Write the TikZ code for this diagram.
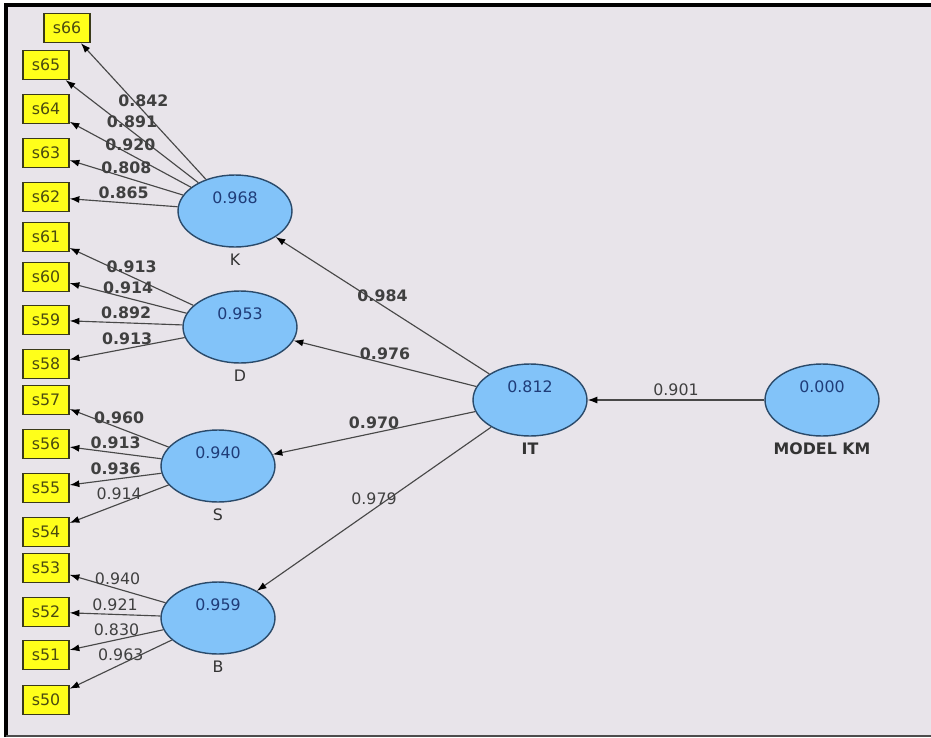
\documentclass[tikz,border=0pt]{standalone}
\usepackage{fontspec}
\setmainfont{DejaVu Sans}
\usetikzlibrary{shapes.geometric,arrows.meta}

\definecolor{bgcol}{HTML}{E8E4EA}
\definecolor{lvfill}{HTML}{82C3F9}
\definecolor{lvline}{HTML}{2A4A6A}
\definecolor{lvtext}{HTML}{1F3C78}
\definecolor{indfill}{HTML}{FFFF1A}
\definecolor{indline}{HTML}{3A3A1A}
\definecolor{indtext}{HTML}{4A4A10}
\definecolor{pathcol}{HTML}{484848}

\tikzset{
  latent/.style={ellipse, draw=lvline, fill=lvfill, line width=0.8pt,
    minimum width=2.28cm, minimum height=1.44cm, inner sep=0pt},
  lvtxt/.style={text=lvtext, yshift=0.26cm},
  lname/.style={text=black!80},
  ind/.style={draw=indline, fill=indfill, line width=0.8pt, text=indtext,
    minimum width=0.92cm, minimum height=0.58cm, inner sep=0pt},
  load/.style={draw=pathcol, line width=0.65pt,
    -{Latex[length=5.5pt,width=4pt,color=black]}},
  lbl/.style={above, inner sep=2pt, text=black!75},
  lblb/.style={lbl, font=\fontsize{9}{10}\selectfont\bfseries}
}

\begin{document}
\begin{tikzpicture}[x=0.02cm, y=-0.02cm, font=\fontsize{9}{10}\selectfont]
% Parameters
\def\boxX{46};

% Canvas and frame
\useasboundingbox (0,0) rectangle (931,738);
\fill[bgcol] (4,3) rectangle (931,737);
\draw[line width=2.3pt, black] (6,737) -- (6,5) -- (931,5);
\draw[line width=1.5pt, black!70] (6,736) -- (931,736);

% Latent variables
\node[latent, label={[lvtxt]center:0.968}, label={[lname]below:K}] (K) at (235,211) {};
\node[latent, label={[lvtxt]center:0.953}, label={[lname]below:D}] (D) at (240,327) {};
\node[latent, label={[lvtxt]center:0.940}, label={[lname]below:S}] (S) at (218,466) {};
\node[latent, label={[lvtxt]center:0.959}, label={[lname]below:B}] (B) at (218,618) {};
\node[latent, label={[lvtxt]center:0.812}, label={[lname,font=\fontsize{9}{10}\selectfont\bfseries]below:IT}] (IT) at (530,400) {};
\node[latent, label={[lvtxt]center:0.000}, label={[lname,font=\fontsize{9}{10}\selectfont\bfseries]below:MODEL KM}] (KM) at (822,400) {};

% Indicators
\node[ind] (s66) at (67,28) {s66};
\foreach \n/\y in {65/65,64/109,63/153,62/197,61/237,60/277,59/320,58/364,
                   57/400,56/444,55/488,54/532,53/568,52/612,51/655,50/700}
{
\node[ind] (s\n) at (\boxX,\y) {s\n};
}

% Outer loadings
\foreach \lv/\n/\val/\st in {K/66/0.842/lblb,K/65/0.891/lblb,K/64/0.920/lblb,K/63/0.808/lblb,K/62/0.865/lblb,
                             D/61/0.913/lblb,D/60/0.914/lblb,D/59/0.892/lblb,D/58/0.913/lblb,
                             S/57/0.960/lblb,S/56/0.913/lblb,S/55/0.936/lblb,S/54/0.914/lbl,
                             B/53/0.940/lbl,B/52/0.921/lbl,B/51/0.830/lbl,B/50/0.963/lbl}
{
\draw[load] (\lv) -- (s\n) node[\st, midway]{\val};
}

% Path coefficients
\draw[load] (IT) -- (K) node[lblb, midway]{0.984};
\draw[load] (IT) -- (D) node[lblb, midway]{0.976};
\draw[load] (IT) -- (S) node[lblb, midway]{0.970};
\draw[load] (IT) -- (B) node[lbl, midway]{0.979};
\draw[load] (KM) -- (IT) node[lbl, midway]{0.901};

\end{tikzpicture}
\end{document}
